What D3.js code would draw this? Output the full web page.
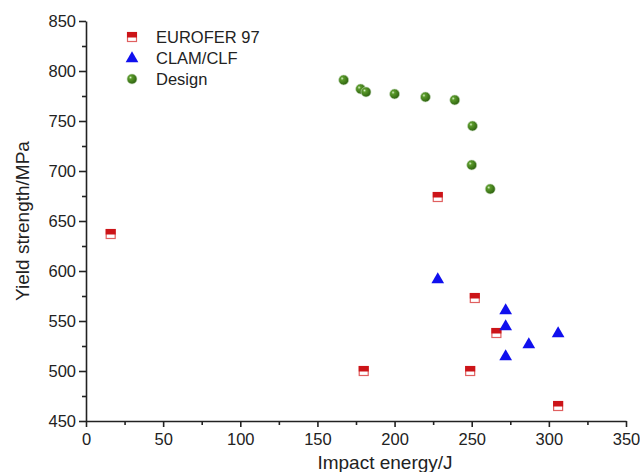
<!DOCTYPE html>
<html>
<head>
<meta charset="utf-8">
<script src="https://cdn.jsdelivr.net/npm/d3@7"></script>
<style>
  body { margin: 0; background: #fff; }
  text { font-family: Arial, "Liberation Sans", sans-serif; }
</style>
</head>
<body>
<div id="chart"></div>
<script>
// data
var euroferX = [16, 228, 252, 266, 180, 249, 306];
var euroferY = [637, 674, 573, 538, 500, 500, 465];

var clamX = [228, 272, 272, 306, 287, 272];
var clamY = [592, 561, 545, 538, 527, 515];

var designX = [167, 178, 181.5, 200, 220, 239, 250.5, 250, 262];
var designY = [791, 782, 779, 777, 774, 771, 745, 706, 682];

var xTicks = [0, 50, 100, 150, 200, 250, 300, 350];
var yTicks = [450, 500, 550, 600, 650, 700, 750, 800, 850];
var legendNames = ["EUROFER 97", "CLAM/CLF", "Design"];

var width = 640, height = 472;
var margin = {left: 86, right: 14, top: 21, bottom: 51};

var svg = d3.select("#chart").append("svg")
  .attr("width", width)
  .attr("height", height);

var defs = svg.append("defs");
var grad = defs.append("radialGradient")
  .attr("id", "ball")
  .attr("cx", "35%").attr("cy", "35%").attr("r", "65%");
grad.append("stop").attr("offset", "0%").attr("stop-color", "#d8f0c8");
grad.append("stop").attr("offset", "25%").attr("stop-color", "#5a9a2a");
grad.append("stop").attr("offset", "100%").attr("stop-color", "#2f6410");

var x = d3.scaleLinear().domain([0, 350]).range([margin.left, width - margin.right]);
var y = d3.scaleLinear().domain([450, 850]).range([height - margin.bottom, margin.top]);

// minor ticks
var xMinor = d3.range(25, 350, 50);
var yMinor = d3.range(475, 850, 50);

var xAxis = svg.append("g")
  .attr("transform", "translate(0," + y(450) + ")")
  .call(d3.axisBottom(x).tickValues(xTicks).tickSize(6).tickSizeOuter(0).tickPadding(3));
svg.append("g")
  .attr("transform", "translate(0," + y(450) + ")")
  .call(d3.axisBottom(x).tickValues(xMinor).tickSize(4).tickFormat(""))
  .select(".domain").remove();

var yAxis = svg.append("g")
  .attr("transform", "translate(" + x(0) + ",0)")
  .call(d3.axisLeft(y).tickValues(yTicks).tickSize(7).tickSizeOuter(0).tickPadding(3));
svg.append("g")
  .attr("transform", "translate(" + x(0) + ",0)")
  .call(d3.axisLeft(y).tickValues(yMinor).tickSize(4).tickFormat(""))
  .select(".domain").remove();

svg.selectAll(".domain, .tick line")
  .attr("stroke", "#222")
  .attr("stroke-width", 1.6);
svg.selectAll(".tick text")
  .attr("font-size", 16.5)
  .attr("fill", "#222");
xAxis.selectAll(".tick text").attr("dy", "0.9em");

// axis titles
svg.append("text")
  .attr("x", 385).attr("y", 469)
  .attr("text-anchor", "middle")
  .attr("font-size", 19)
  .attr("fill", "#222")
  .text("Impact energy/J");

svg.append("text")
  .attr("transform", "translate(29,221) rotate(-90)")
  .attr("text-anchor", "middle")
  .attr("font-size", 19)
  .attr("fill", "#222")
  .text("Yield strength/MPa");

function drawSquare(g, cx, cy) {
  g.append("rect")
    .attr("x", cx - 4.5).attr("y", cy - 4.5)
    .attr("width", 9).attr("height", 9)
    .attr("fill", "#fff")
    .attr("stroke", "#e06060").attr("stroke-width", 1.2);
  g.append("rect")
    .attr("x", cx - 5).attr("y", cy - 5)
    .attr("width", 10).attr("height", 5.5)
    .attr("fill", "#cc1418");
}

function drawTriangle(g, cx, cy) {
  g.append("path")
    .attr("d", d3.symbol().type(d3.symbolTriangle).size(70)())
    .attr("transform", "translate(" + cx + "," + (cy + 0.5) + ")")
    .attr("fill", "#1010ee");
}

function drawBall(g, cx, cy) {
  g.append("circle")
    .attr("cx", cx).attr("cy", cy).attr("r", 5)
    .attr("fill", "url(#ball)")
    .attr("stroke", "#c8dcc0").attr("stroke-width", 0.6);
}

var pts = svg.append("g");
designX.forEach(function(d, i) { drawBall(pts, x(d), y(designY[i])); });
euroferX.forEach(function(d, i) { drawSquare(pts, x(d), y(euroferY[i])); });
clamX.forEach(function(d, i) { drawTriangle(pts, x(d), y(clamY[i])); });

// legend
var leg = svg.append("g");
var drawers = [drawSquare, drawTriangle, drawBall];
legendNames.forEach(function(name, i) {
  var ly = 37 + i * 21;
  drawers[i](leg, 132, ly);
  leg.append("text")
    .attr("x", 156).attr("y", ly)
    .attr("dy", "0.35em")
    .attr("font-size", 16.5)
    .attr("fill", "#222")
    .text(name);
});
</script>
</body>
</html>
